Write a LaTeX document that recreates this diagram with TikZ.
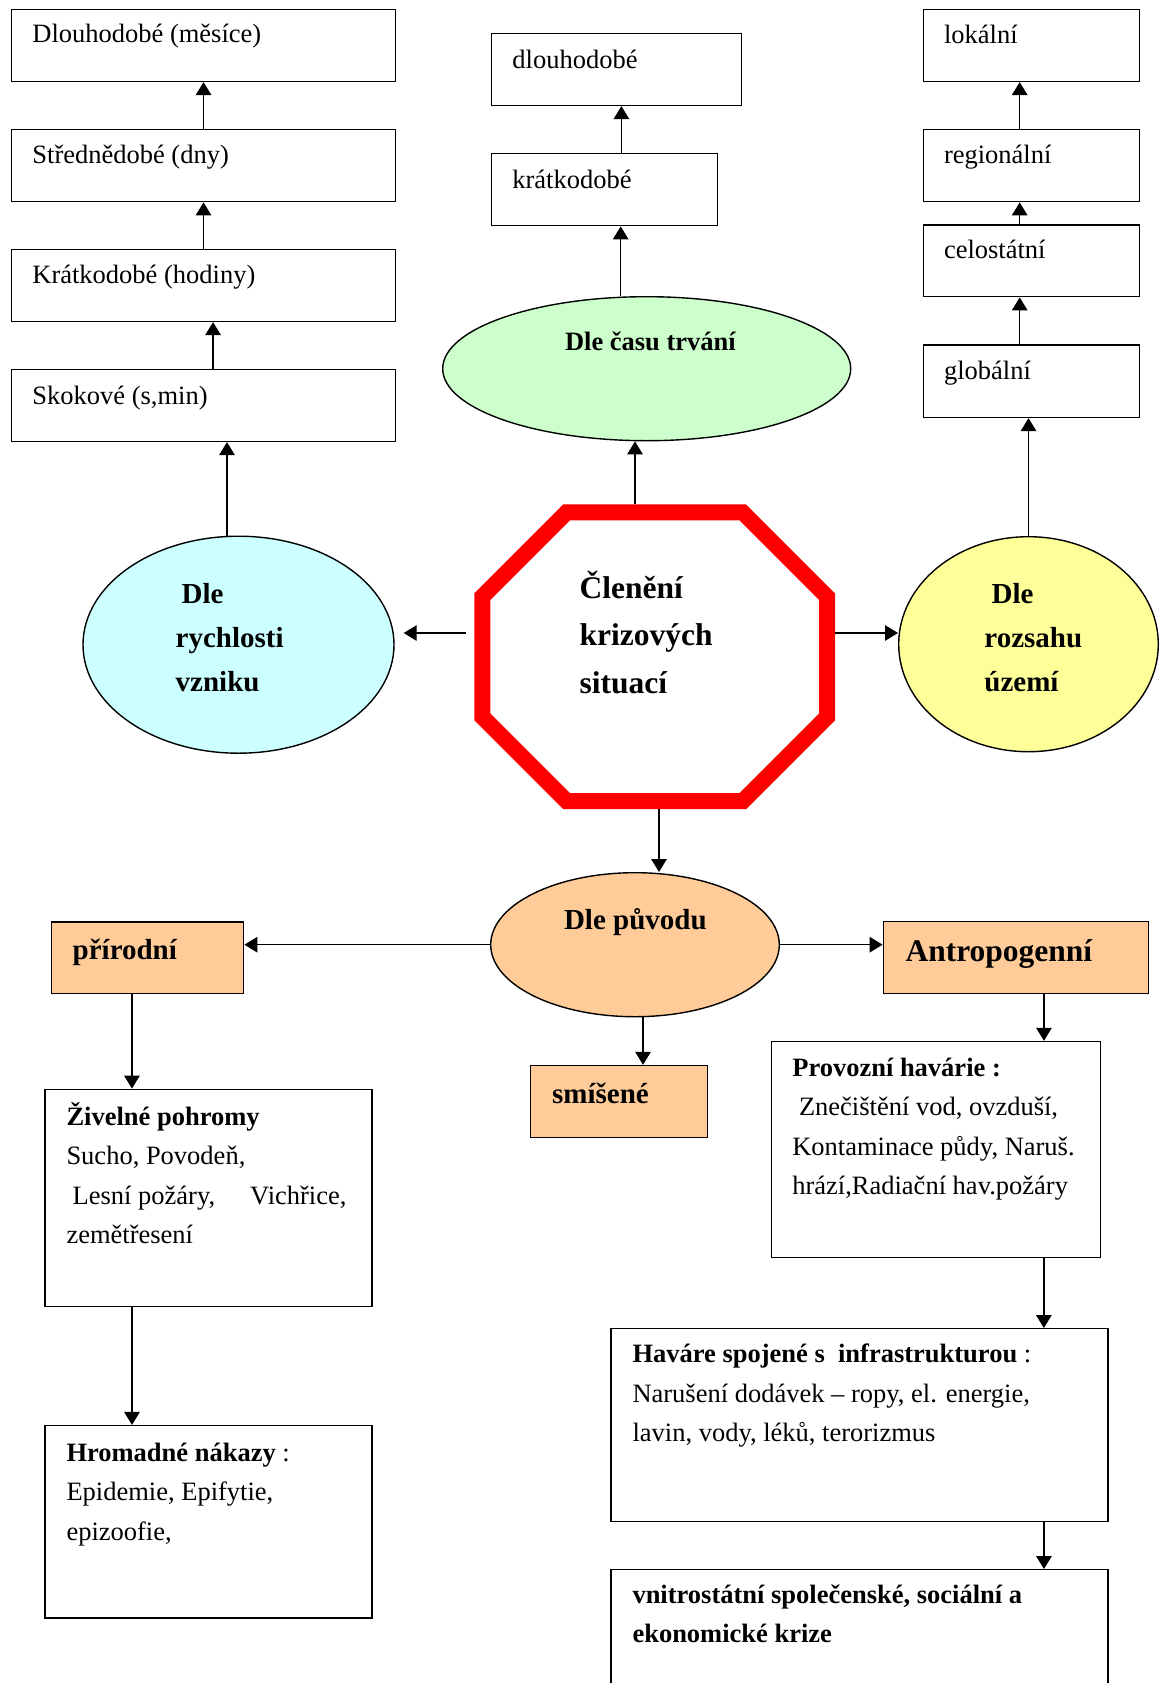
\documentclass[tikz,border=0pt]{standalone}
\usepackage{fontspec}
\setmainfont{Liberation Serif}
\usetikzlibrary{shapes.geometric,arrows.meta}

\definecolor{cyanfill}{HTML}{CCFFFF}
\definecolor{greenfill}{HTML}{CCFFCC}
\definecolor{yellowfill}{HTML}{FFFF99}
\definecolor{orangefill}{HTML}{FFCC99}

\begin{document}
\begin{tikzpicture}[x=1pt, y=-1pt, line width=1.4pt,
  box/.style = {draw, rectangle, anchor=north west, inner sep=0pt},
  oval/.style = {draw, ellipse, inner sep=0pt},
  txt/.style = {anchor=base west, inner sep=0pt, align=left, font=\fontsize{26.5}{39.5}\selectfont},
  mid/.style = {txt, font=\fontsize{29}{44}\selectfont\bfseries},
  big/.style = {txt, font=\fontsize{31.5}{47.5}\selectfont\bfseries},
  arr/.style = {-{Triangle[length=13pt, width=15.5pt]}}]
\path[use as bounding box, clip] (0,0) rectangle (1160,1683);

\node[box, minimum width=384.3pt, minimum height=71.7pt] (b1) at (10.7,9) {};
\node[box, minimum width=384.3pt, minimum height=72.3pt] (b2) at (10.7,128.7) {};
\node[box, minimum width=384.3pt, minimum height=72pt] (b3) at (10.7,248.7) {};
\node[box, minimum width=384.3pt, minimum height=71.7pt] (b4) at (10.7,369) {};
\node[box, minimum width=250pt, minimum height=72pt] (m1) at (490.7,32.7) {};
\node[box, minimum width=226pt, minimum height=72.3pt] (m2) at (490.7,152.7) {};
\node[box, minimum width=216.3pt, minimum height=71.7pt] (r1) at (922.7,9) {};
\node[box, minimum width=216.3pt, minimum height=72.3pt] (r2) at (922.7,128.7) {};
\node[box, minimum width=216.3pt, minimum height=71.7pt] (r3) at (922.7,224.3) {};
\node[box, minimum width=216.3pt, minimum height=72.4pt] (r4) at (922.7,344.3) {};

\node[oval, fill=greenfill, minimum width=408pt, minimum height=144pt] (green) at (646.7,368.7) {};
\node[oval, fill=cyanfill, minimum width=311pt, minimum height=217pt] (cyan) at (238.5,644.7) {};
\node[oval, fill=yellowfill, minimum width=259.6pt, minimum height=215pt] (yellow) at (1028.5,644.2) {};
\node[oval, fill=orangefill, minimum width=288.6pt, minimum height=144pt] (orange) at (635,944.7) {};

\node[minimum width=359.4pt, minimum height=303.3pt, inner sep=0pt] (oct) at (654.7,656.8) {};
\draw[red, line width=16pt] ([shift={(92.3pt,-8pt)}]oct.north west) -- ([shift={(-92.3pt,-8pt)}]oct.north east)
  -- ([shift={(-8pt,-92.3pt)}]oct.north east) -- ([shift={(-8pt,92.3pt)}]oct.south east)
  -- ([shift={(-92.3pt,8pt)}]oct.south east) -- ([shift={(92.3pt,8pt)}]oct.south west)
  -- ([shift={(8pt,92.3pt)}]oct.south west) -- ([shift={(8pt,-92.3pt)}]oct.north west) -- cycle;

\node[box, fill=orangefill, minimum width=192.1pt, minimum height=71.6pt] (prir) at (50.9,921.2) {};
\node[box, fill=orangefill, minimum width=176.9pt, minimum height=71.9pt] (smis) at (530,1064.8) {};
\node[box, fill=orangefill, minimum width=265.3pt, minimum height=71.9pt] (antro) at (882.6,921) {};
\node[box, minimum width=326.8pt, minimum height=217pt] (ziv) at (44.4,1088.6) {};
\node[box, minimum width=326.8pt, minimum height=192.4pt] (hrom) at (44.4,1424.9) {};
\node[box, minimum width=329.3pt, minimum height=216.2pt] (prov) at (770.5,1040.8) {};
\node[box, minimum width=496.9pt, minimum height=192.7pt] (hav) at (610.3,1328) {};
\node[box, minimum width=496.9pt, minimum height=150pt] (vnit) at (610.3,1569) {};

\node[txt] (t1) at (31.7,43) {Dlouhodobé (měsíce)};
\node[txt] (t2) at (31.7,163.3) {Střednědobé (dny)};
\node[txt] (t3) at (31.7,283.3) {Krátkodobé (hodiny)};
\node[txt] (t4) at (31.7,404) {Skokové (s,min)};
\node[txt] (t5) at (511.7,68.3) {dlouhodobé};
\node[txt] (t6) at (511.7,188.3) {krátkodobé};
\node[txt] (t7) at (943.3,43.3) {lokální};
\node[txt] (t8) at (943.3,163.3) {regionální};
\node[txt] (t9) at (943.3,258.3) {celostátní};
\node[txt] (t10) at (943.3,379) {globální};
\node[txt, font=\fontsize{26.5}{39.5}\selectfont\bfseries] (t11) at (564.3,350.7) {Dle času trvání};
\node[mid] (t12) at (175,691.5) {\hspace*{6pt}Dle\\rychlosti\\vzniku};
\node[big] (t13) at (579,693.2) {Členění\\krizových\\situací};
\node[mid] (t14) at (983.7,691.8) {\hspace*{7.3pt}Dle\\rozsahu\\území};
\node[mid] (t15) at (72,959.4) {přírodní};
\node[mid] (t16) at (563.3,929.3) {Dle původu};
\node[mid] (t17) at (551.5,1103.7) {smíšené};
\node[big] (t18) at (904.8,961.4) {Antropogenní};
\node[txt] (t19) at (65.8,1243.8) {\textbf{Živelné pohromy}\\Sucho, Povodeň,\\\hspace*{6.2pt}Lesní požáry,\hspace{35pt}Vichřice,\\zemětřesení};
\node[txt] (t20) at (65.8,1540) {\textbf{Hromadné nákazy} :\\Epidemie, Epifytie,\\epizoofie,};
\node[txt] (t21) at (791.6,1194.6) {\textbf{Provozní havárie :}\\\hspace*{6.7pt}Znečištění vod, ovzduší,\\Kontaminace půdy, Naruš.\\hrází,Radiační hav.požáry};
\node[txt] (t22) at (631.8,1441.8) {\textbf{Haváre spojené s\ \ infrastrukturou} :\\Narušení dodávek – ropy, el. energie,\\lavin, vody, léků, terorizmus};
\node[txt] (t23) at (631.8,1642.5) {\textbf{vnitrostátní společenské, sociální a}\\\textbf{ekonomické krize}};

\draw[arr] (b2.north) -- (b1.south);
\draw[arr] (b3.north) -- (b2.south);
\draw[arr] ([xshift=9.5pt]b4.north) -- ([xshift=9.5pt]b3.south);
\draw[arr] ([xshift=-11.5pt]cyan.north) -- ([xshift=-11.5pt]cyan.north |- b4.south);
\draw[arr] ([xshift=17pt]m2.north) -- ([xshift=17pt]m2.north |- m1.south);
\draw[arr] ([xshift=-26pt]green.north) -- ([xshift=-26pt]green.north |- m2.south);
\draw[arr] ([xshift=-19.7pt]oct.north) -- ([xshift=-19.7pt]oct.north |- green.south);
\draw[arr] ([xshift=-11.85pt]r2.north) -- ([xshift=-11.85pt]r1.south);
\draw[arr] ([xshift=-11.85pt]r3.north) -- ([xshift=-11.85pt]r2.south);
\draw[arr] ([xshift=-11.85pt]r4.north) -- ([xshift=-11.85pt]r3.south);
\draw[arr] (yellow.north) -- (yellow.north |- r4.south);
\draw[arr, shorten <=8pt, shorten >=9pt] ([yshift=23.8pt]oct.west) -- ([yshift=23.8pt]oct.west -| cyan.east);
\draw[arr] ([yshift=23.8pt]oct.east) -- ([yshift=23.8pt]oct.east -| yellow.west);
\draw[arr] ([xshift=4.3pt]oct.south) -- ([xshift=4.3pt]oct.south |- orange.north);
\draw[arr] (orange.west) -- (orange.west -| prir.east);
\draw[arr] (orange.east) -- (orange.east -| antro.west);
\draw[arr] ([xshift=8pt]orange.south) -- ([xshift=8pt]orange.south |- smis.north);
\draw[arr] ([xshift=-15.7pt]prir.south) -- ([xshift=-15.7pt]prir.south |- ziv.north);
\draw[arr] ([xshift=-76.5pt]ziv.south) -- ([xshift=-76.5pt]ziv.south |- hrom.north);
\draw[arr] ([xshift=28pt]antro.south) -- ([xshift=28pt]antro.south |- prov.north);
\draw[arr] ([xshift=108pt]prov.south) -- ([xshift=108pt]prov.south |- hav.north);
\draw[arr] ([xshift=184.5pt]hav.south) -- ([xshift=184.5pt]hav.south |- vnit.north);
\end{tikzpicture}
\end{document}
